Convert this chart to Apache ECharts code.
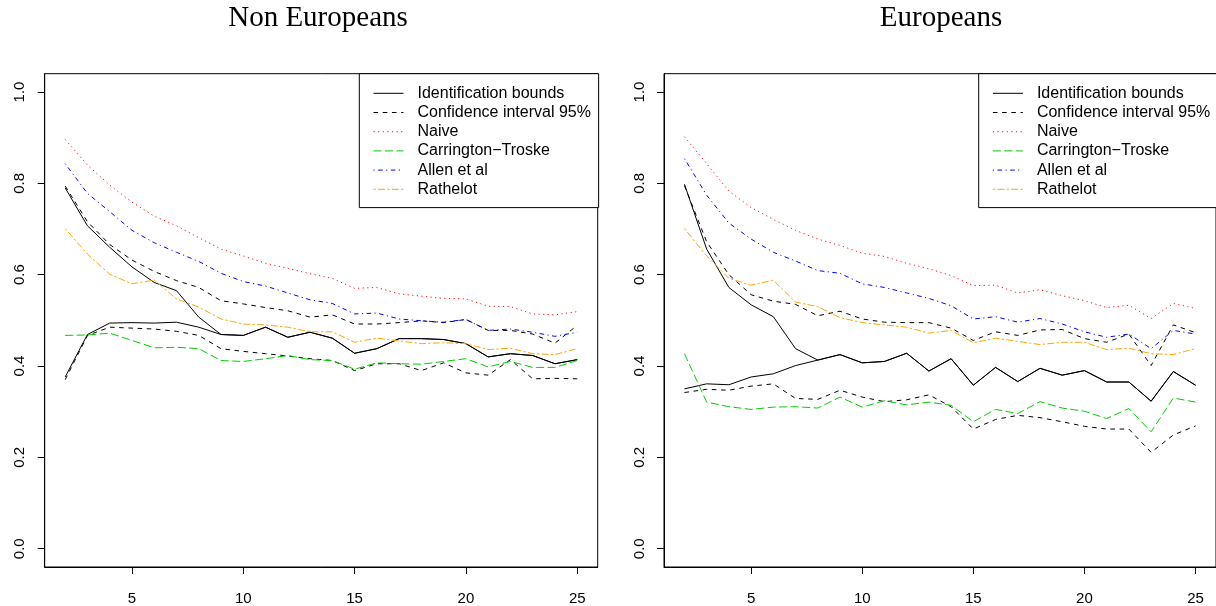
<!DOCTYPE html>
<html><head><meta charset="utf-8">
<script src="https://cdn.jsdelivr.net/npm/echarts@6/dist/echarts.min.js"></script>
<style>html,body{margin:0;padding:0;background:#fff}#c{width:1216px;height:606px}</style>
</head><body><div id="c"></div>
<script>
const ks = [2,3,4,5,6,7,8,9,10,11,12,13,14,15,16,17,18,19,20,21,22,23,24,25];
const xTicks = [5,10,15,20,25];
const yTicks = [0,0.2,0.4,0.6,0.8,1.0];
const titles = ['Non Europeans','Europeans'];
const seriesNames = ['Identification bounds','Confidence interval 95%','Naive','Carrington\u2212Troske','Allen et al','Rathelot'];

// Non Europeans
const nonIdUpper = [0.790,0.707,0.660,0.617,0.583,0.565,0.507,0.469,0.467,0.485,0.463,0.474,0.461,0.428,0.438,0.460,0.460,0.458,0.449,0.420,0.427,0.423,0.405,0.414];
const nonIdLower = [0.376,0.469,0.494,0.495,0.494,0.496,0.485,0.469,0.467,0.485,0.463,0.474,0.461,0.428,0.438,0.460,0.460,0.458,0.449,0.420,0.427,0.423,0.405,0.414];
const nonCiUpper = [0.794,0.716,0.666,0.632,0.607,0.587,0.572,0.543,0.536,0.528,0.521,0.507,0.512,0.492,0.492,0.495,0.499,0.495,0.502,0.478,0.478,0.470,0.450,0.489];
const nonCiLower = [0.370,0.467,0.485,0.483,0.481,0.476,0.467,0.438,0.432,0.427,0.422,0.416,0.412,0.390,0.405,0.405,0.390,0.407,0.385,0.380,0.414,0.372,0.373,0.372];
const nonNaive = [0.896,0.840,0.796,0.759,0.728,0.707,0.681,0.656,0.641,0.625,0.614,0.602,0.592,0.570,0.572,0.558,0.553,0.548,0.547,0.531,0.530,0.514,0.512,0.519];
const nonCarr = [0.467,0.468,0.472,0.456,0.440,0.441,0.438,0.412,0.410,0.416,0.423,0.414,0.412,0.393,0.407,0.405,0.404,0.410,0.416,0.398,0.410,0.397,0.397,0.412];
const nonAllen = [0.843,0.778,0.738,0.697,0.670,0.649,0.629,0.603,0.585,0.575,0.560,0.545,0.537,0.514,0.516,0.503,0.499,0.496,0.502,0.478,0.481,0.474,0.465,0.474];
const nonRath = [0.701,0.645,0.601,0.580,0.588,0.547,0.529,0.503,0.492,0.490,0.485,0.475,0.475,0.452,0.461,0.455,0.449,0.451,0.449,0.436,0.439,0.427,0.425,0.438];

// Europeans
const euIdUpper = [0.798,0.656,0.572,0.534,0.508,0.438,0.413,0.425,0.407,0.410,0.428,0.389,0.416,0.358,0.397,0.366,0.395,0.380,0.390,0.365,0.365,0.323,0.388,0.358];
const euIdLower = [0.350,0.361,0.359,0.376,0.383,0.401,0.413,0.425,0.407,0.410,0.428,0.389,0.416,0.358,0.397,0.366,0.395,0.380,0.390,0.365,0.365,0.323,0.388,0.358];
const euCiUpper = [0.795,0.672,0.600,0.556,0.542,0.535,0.510,0.520,0.503,0.496,0.495,0.495,0.483,0.456,0.475,0.467,0.479,0.480,0.460,0.452,0.470,0.401,0.490,0.473];
const euCiLower = [0.342,0.349,0.347,0.356,0.361,0.329,0.327,0.347,0.332,0.322,0.326,0.337,0.311,0.262,0.283,0.292,0.287,0.278,0.268,0.262,0.262,0.211,0.249,0.269];
const euNaive = [0.902,0.843,0.783,0.747,0.721,0.697,0.678,0.664,0.647,0.640,0.625,0.613,0.598,0.576,0.577,0.560,0.567,0.554,0.543,0.528,0.533,0.504,0.537,0.526];
const euCarr = [0.427,0.321,0.311,0.305,0.310,0.311,0.308,0.332,0.310,0.324,0.315,0.321,0.314,0.278,0.305,0.296,0.322,0.308,0.301,0.285,0.307,0.256,0.330,0.321];
const euAllen = [0.854,0.774,0.713,0.678,0.649,0.630,0.609,0.603,0.580,0.572,0.560,0.548,0.532,0.503,0.508,0.496,0.504,0.492,0.475,0.463,0.470,0.438,0.478,0.470];
const euRath = [0.701,0.641,0.592,0.577,0.588,0.540,0.530,0.506,0.495,0.490,0.485,0.472,0.478,0.451,0.461,0.454,0.447,0.452,0.452,0.436,0.439,0.427,0.425,0.438];

const s = 1.15;
const styles = {
  'Identification bounds': {color:'#000000', type:'solid'},
  'Confidence interval 95%': {color:'#000000', type:[4*s,4*s]},
  'Naive': {color:'#FF0000', type:[1*s,3*s]},
  'Carrington\u2212Troske': {color:'#00CD00', type:[7*s,3*s]},
  'Allen et al': {color:'#0000FF', type:[1*s,3*s,4*s,3*s]},
  'Rathelot': {color:'#FFA500', type:[2*s,2*s,6*s,2*s]}
};

const panels = [
  [[seriesNames[0],nonIdUpper],[seriesNames[0],nonIdLower],[seriesNames[1],nonCiUpper],[seriesNames[1],nonCiLower],[seriesNames[2],nonNaive],[seriesNames[3],nonCarr],[seriesNames[4],nonAllen],[seriesNames[5],nonRath]],
  [[seriesNames[0],euIdUpper],[seriesNames[0],euIdLower],[seriesNames[1],euCiUpper],[seriesNames[1],euCiLower],[seriesNames[2],euNaive],[seriesNames[3],euCarr],[seriesNames[4],euAllen],[seriesNames[5],euRath]]
];

const gridLefts = [44.7, 664];
const gridTop = 73.7, gridW = 553, gridH = 495.3;
const titleCenters = [318, 941];

const series = [];
panels.forEach((p, pi) => {
  p.forEach(([name, vals]) => {
    const st = styles[name];
    series.push({
      type:'line', name, xAxisIndex:pi, yAxisIndex:pi, symbol:'none', animation:false,
      lineStyle:{color:st.color, width:1, type:st.type},
      itemStyle:{color:st.color},
      data: ks.map((k,i)=>[k, vals[i]])
    });
  });
});

const axisFont = {fontFamily:'Liberation Sans', fontSize:15, color:'#000'};
const option = {
  animation:false,
  title: titles.map((t,i)=>({text:t, left: titleCenters[i], top:4, textAlign:'center', padding:0,
    textStyle:{fontFamily:'Liberation Serif', fontSize:29, fontWeight:'normal', color:'#000'}})),
  grid: gridLefts.map(l=>({left:l, top:gridTop, width:gridW, height:gridH, show:true, borderColor:'#000', borderWidth:1, containLabel:false})),
  xAxis: [0,1].map(i=>({type:'value', gridIndex:i, min:1.08, max:25.92, splitLine:{show:false},
    axisLine:{show:true, onZero:false, lineStyle:{color:'#000', width:1}},
    axisTick:{show:true, inside:false, length:7, lineStyle:{color:'#000'}, customValues:xTicks},
    axisLabel:Object.assign({margin:24, customValues:xTicks, formatter:v=>String(v)}, axisFont)})),
  yAxis: [0,1].map(i=>({type:'value', gridIndex:i, min:-0.04, max:1.04, splitLine:{show:false},
    axisLine:{show:true, onZero:false, lineStyle:{color:'#000', width:1}},
    axisTick:{show:true, inside:false, length:7, lineStyle:{color:'#000'}, customValues:yTicks},
    axisLabel:Object.assign({margin:17, rotate:90, customValues:yTicks, formatter:v=>v.toFixed(1)}, axisFont)})),
  legend: [0,1].map(i=>({
    data: seriesNames, orient:'vertical', left: i===0 ? 359.3 : 978.7, top: gridTop,
    padding:[10,7.7,8.7,13.7], itemGap:0, itemWidth:30, itemHeight:14,
    borderColor:'#000', borderWidth:1, borderRadius:0, backgroundColor:'#fff',
    itemStyle:{opacity:0},
    lineStyle:{width:1},
    textStyle:{fontFamily:'Liberation Sans', fontSize:16, color:'#000', lineHeight:19.2, padding:[0,0,0,9]},
    selectedMode:false
  })),
  series
};
const chart = echarts.init(document.getElementById('c'), null, {renderer:'canvas'});
chart.setOption(option);
</script></body></html>
